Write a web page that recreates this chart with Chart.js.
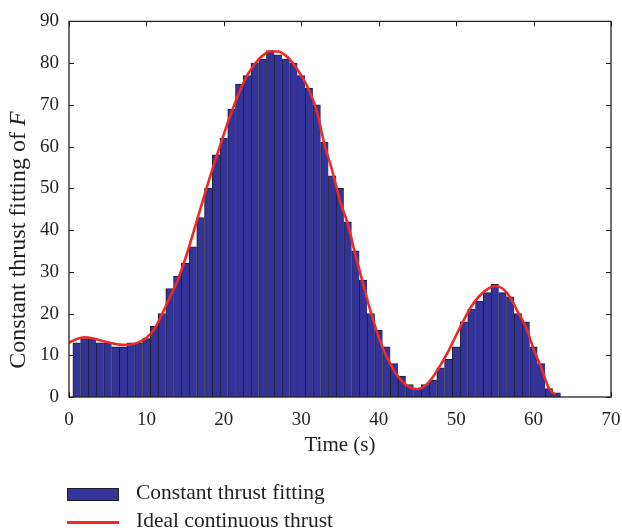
<!DOCTYPE html>
<html>
<head>
<meta charset="utf-8">
<script src="https://cdn.jsdelivr.net/npm/chart.js@4.4.1/dist/chart.umd.min.js"></script>
<style>
html,body{margin:0;padding:0;background:#ffffff;}
#wrap{position:relative;width:622px;height:531px;overflow:hidden;}
#c{position:absolute;left:0;top:0;}
.lg{position:absolute;font-family:'Liberation Serif','Times New Roman',serif;font-size:21.5px;color:#231f20;white-space:nowrap;line-height:1;}
.sw{position:absolute;}
</style>
</head>
<body>
<div id="wrap">
  <canvas id="c" width="622" height="531"></canvas>
  <div id="legend"></div>
</div>
<script>
// ---- data ----
const barTimes = [1,2,3,4,5,6,7,8,9,10,11,12,13,14,15,16,17,18,19,20,21,22,23,24,25,26,27,28,29,30,31,32,33,34,35,36,37,38,39,40,41,42,43,44,45,46,47,48,49,50,51,52,53,54,55,56,57,58,59,60,61,62,63];
const barValues = [13,14,14,13,13,12,12,13,13,14,17,20,26,29,32,36,43,50,58,62,69,75,77,80,81,83,82,81,80,77,74,70,61,53,50,42,35,28,20,16,12,8,5,3,2,3,4,7,9,12,18,21,23,25,27,25,24,20,18,12,8,2,1];
const curveTimes = [0,1,2,3,4,5,6,7,8,9,10,11,12,13,14,15,16,17,18,19,20,21,22,23,24,25,26,27,28,29,30,31,32,33,34,35,36,37,38,39,40,41,42,43,44,45,46,47,48,49,50,51,52,53,54,55,56,57,58,59,60,61,62,62.8];
const curveValues = [13.0,13.9,14.3,14.1,13.6,13.1,12.7,12.5,12.6,13.1,14.2,16.2,19.8,23.8,27.8,33.0,39.0,45.3,51.5,57.3,63.0,68.3,73.0,77.0,79.8,81.8,82.8,82.8,81.8,79.8,77.0,73.5,68.5,60.5,54.2,47.0,41.5,34.0,27.0,20.2,14.3,9.8,6.3,3.8,2.3,1.9,2.7,4.8,7.7,11.0,14.8,18.5,21.8,24.2,25.8,26.6,26.0,23.8,20.3,16.8,11.5,7.0,2.0,0.6];
const xTicks = [0,10,20,30,40,50,60,70];
const yTicks = [0,10,20,30,40,50,60,70,80,90];
const seriesNames = ['Constant thrust fitting','Ideal continuous thrust'];
const xTitle = 'Time (s)';
const yTitleMain = 'Constant thrust fitting of ';
const yTitleItalic = 'F';

const BAR_FILL = '#333399';
const BAR_EDGE = '#1e1e2a';
const LINE_COL = '#ee2a24';
const INK = '#231f20';
const SERIF = "'Liberation Serif','Times New Roman',serif";

const framePlugin = {
  id: 'frame',
  beforeDatasetsDraw(chart) {
    const {ctx, chartArea: {left, right, top, bottom}, scales: {x, y}} = chart;
    const tl = 5;
    ctx.save();
    ctx.strokeStyle = INK;
    ctx.lineWidth = 1;
    ctx.beginPath();
    x.ticks.forEach(t => {
      const px = Math.round(x.getPixelForValue(t.value)) + 0.5;
      ctx.moveTo(px, bottom); ctx.lineTo(px, bottom - tl);
      ctx.moveTo(px, top); ctx.lineTo(px, top + tl);
    });
    y.ticks.forEach(t => {
      const py = Math.round(y.getPixelForValue(t.value)) + 0.5;
      ctx.moveTo(left, py); ctx.lineTo(left + tl, py);
      ctx.moveTo(right, py); ctx.lineTo(right - tl, py);
    });
    ctx.stroke();
    ctx.restore();
  },
  afterDatasetsDraw(chart) {
    const {ctx, chartArea: {left, right, top, bottom}} = chart;
    ctx.save();
    ctx.strokeStyle = INK;
    ctx.lineWidth = 1.3;
    ctx.strokeRect(left, top, right - left, bottom - top);
    ctx.restore();
  },
  afterDraw(chart) {
    const {ctx} = chart;
    ctx.save();
    const f1 = "24px " + SERIF;
    const f2 = "italic 24px " + SERIF;
    ctx.font = f1; const w1 = ctx.measureText(yTitleMain).width;
    ctx.font = f2; const w2 = ctx.measureText(yTitleItalic).width;
    const total = w1 + w2;
    const cx = 19, cy = 240;
    ctx.translate(cx, cy);
    ctx.rotate(-Math.PI / 2);
    ctx.fillStyle = INK;
    ctx.textBaseline = 'middle';
    ctx.textAlign = 'left';
    ctx.font = f1; ctx.fillText(yTitleMain, -total / 2, 0);
    ctx.font = f2; ctx.fillText(yTitleItalic, -total / 2 + w1, 0);
    ctx.restore();
  }
};

const chart = new Chart(document.getElementById('c'), {
  type: 'bar',
  data: {
    datasets: [
      {
        type: 'line',
        label: seriesNames[1],
        data: curveTimes.map((t, i) => ({x: t, y: curveValues[i]})),
        borderColor: LINE_COL,
        borderWidth: 2.6,
        pointRadius: 0,
        cubicInterpolationMode: 'monotone',
        fill: false,
        order: 0
      },
      {
        type: 'bar',
        label: seriesNames[0],
        data: barTimes.map((t, i) => ({x: t, y: barValues[i]})),
        backgroundColor: BAR_FILL,
        borderColor: BAR_EDGE,
        borderWidth: {top: 1, left: 1, right: 0, bottom: 0},
        borderSkipped: false,
        barPercentage: 1,
        categoryPercentage: 1,
        order: 1
      }
    ]
  },
  options: {
    responsive: false,
    devicePixelRatio: 1,
    animation: false,
    layout: {padding: {top: 19, right: 0, left: 0, bottom: 0}},
    plugins: {legend: {display: false}, tooltip: {enabled: false}},
    scales: {
      x: {
        type: 'linear',
        min: 0, max: 70,
        offset: false,
        grid: {display: false, drawTicks: false},
        border: {display: false},
        afterBuildTicks: s => { s.ticks = xTicks.map(v => ({value: v})); },
        afterFit: s => { s.height = 134; s.paddingRight = 11; s.paddingLeft = 0; },
        ticks: {color: INK, font: {family: SERIF, size: 19}, padding: 12, maxRotation: 0, autoSkip: false},
        title: {display: true, text: xTitle, color: INK, font: {family: SERIF, size: 21}, padding: {top: 0, bottom: 73}}
      },
      y: {
        min: 0, max: 90,
        grid: {display: false, drawTicks: false},
        border: {display: false},
        afterBuildTicks: s => { s.ticks = yTicks.map(v => ({value: v})); },
        afterFit: s => { s.width = 69; },
        ticks: {color: INK, font: {family: SERIF, size: 19}, padding: 10, autoSkip: false}
      }
    }
  },
  plugins: [framePlugin]
});

// ---- legend (HTML, built from the chart's datasets) ----
(function buildLegend() {
  const host = document.getElementById('legend');
  const bar = chart.data.datasets[1], line = chart.data.datasets[0];
  const rows = [
    {ds: bar, top: 482, kind: 'box'},
    {ds: line, top: 510, kind: 'line'}
  ];
  rows.forEach(r => {
    const sw = document.createElement('div');
    sw.className = 'sw';
    if (r.kind === 'box') {
      Object.assign(sw.style, {left: '67px', top: '488px', width: '50px', height: '11px',
        background: r.ds.backgroundColor, border: '1px solid ' + r.ds.borderColor});
    } else {
      Object.assign(sw.style, {left: '67px', top: '521px', width: '52px', height: '2.6px',
        background: r.ds.borderColor});
    }
    host.appendChild(sw);
    const t = document.createElement('div');
    t.className = 'lg';
    t.style.left = '136px';
    t.style.top = r.top + 'px';
    t.textContent = r.ds.label;
    host.appendChild(t);
  });
})();
</script>
</body>
</html>
